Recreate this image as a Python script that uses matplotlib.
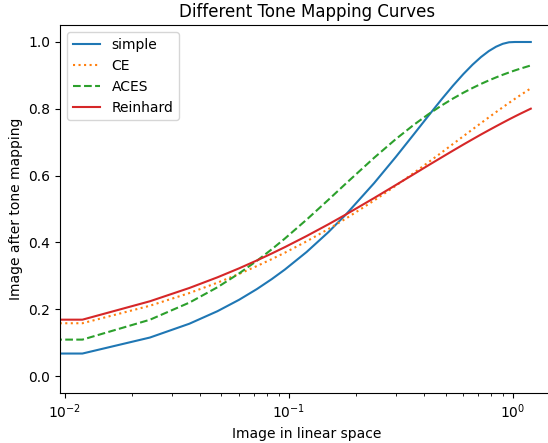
import matplotlib
matplotlib.use("Agg")
import matplotlib.pyplot as plt

# linear input values (x = 0 gets clipped on the log axis, like the original)
x_lin = [0.0, 0.012, 0.024, 0.036, 0.048, 0.06, 0.072, 0.084, 0.096, 0.12,
         0.15, 0.18, 0.24, 0.3, 0.36, 0.42, 0.48, 0.54, 0.6, 0.66, 0.72,
         0.78, 0.84, 0.9, 0.96, 1.02, 1.08, 1.2]

simple = [0.0, 0.0673, 0.1152, 0.1566, 0.1940, 0.2283, 0.2603, 0.2904, 0.3188,
          0.3713, 0.4306, 0.4841, 0.5774, 0.6559, 0.7227, 0.7797, 0.8283,
          0.8694, 0.9038, 0.9322, 0.9551, 0.9729, 0.9859, 0.9946, 0.9992,
          1.0, 1.0, 1.0]

ce = [0.0, 0.1580, 0.2104, 0.2484, 0.2794, 0.3058, 0.3292, 0.3501, 0.3692,
      0.4032, 0.4399, 0.4717, 0.5254, 0.5697, 0.6075, 0.6403, 0.6691, 0.6948,
      0.7178, 0.7385, 0.7574, 0.7745, 0.7902, 0.8046, 0.8178, 0.8300, 0.8412,
      0.8613]

aces = [0.0, 0.1090, 0.1685, 0.2198, 0.2656, 0.3072, 0.3450, 0.3797, 0.4116,
        0.4681, 0.5274, 0.5768, 0.6533, 0.7093, 0.7515, 0.7841, 0.8099, 0.8308,
        0.8481, 0.8624, 0.8746, 0.8850, 0.8940, 0.9019, 0.9088, 0.9150, 0.9204,
        0.9298]

reinhard = [0.0, 0.1687, 0.2238, 0.2636, 0.2954, 0.3224, 0.3460, 0.3670, 0.3859,
            0.4191, 0.4541, 0.4839, 0.5328, 0.5718, 0.6039, 0.6312, 0.6545,
            0.6749, 0.6929, 0.7088, 0.7232, 0.7360, 0.7477, 0.7584, 0.7683,
            0.7773, 0.7856, 0.8004]

fig = plt.figure(figsize=(5.48, 4.43), dpi=100)
ax = fig.add_axes([0.1095, 0.1135, 0.9, 0.8294])

ax.plot(x_lin, simple, color="C0", linestyle="-", label="simple")
ax.plot(x_lin, ce, color="C1", linestyle=":", label="CE")
ax.plot(x_lin, aces, color="C2", linestyle="--", label="ACES")
ax.plot(x_lin, reinhard, color="C3", linestyle="-", label="Reinhard")

ax.set_xscale("log")
ax.set_xlabel("Image in linear space")
ax.set_ylabel("Image after tone mapping")
ax.set_title("Different Tone Mapping Curves")
ax.legend(loc="upper left")

fig.savefig("out.png", dpi=100)
